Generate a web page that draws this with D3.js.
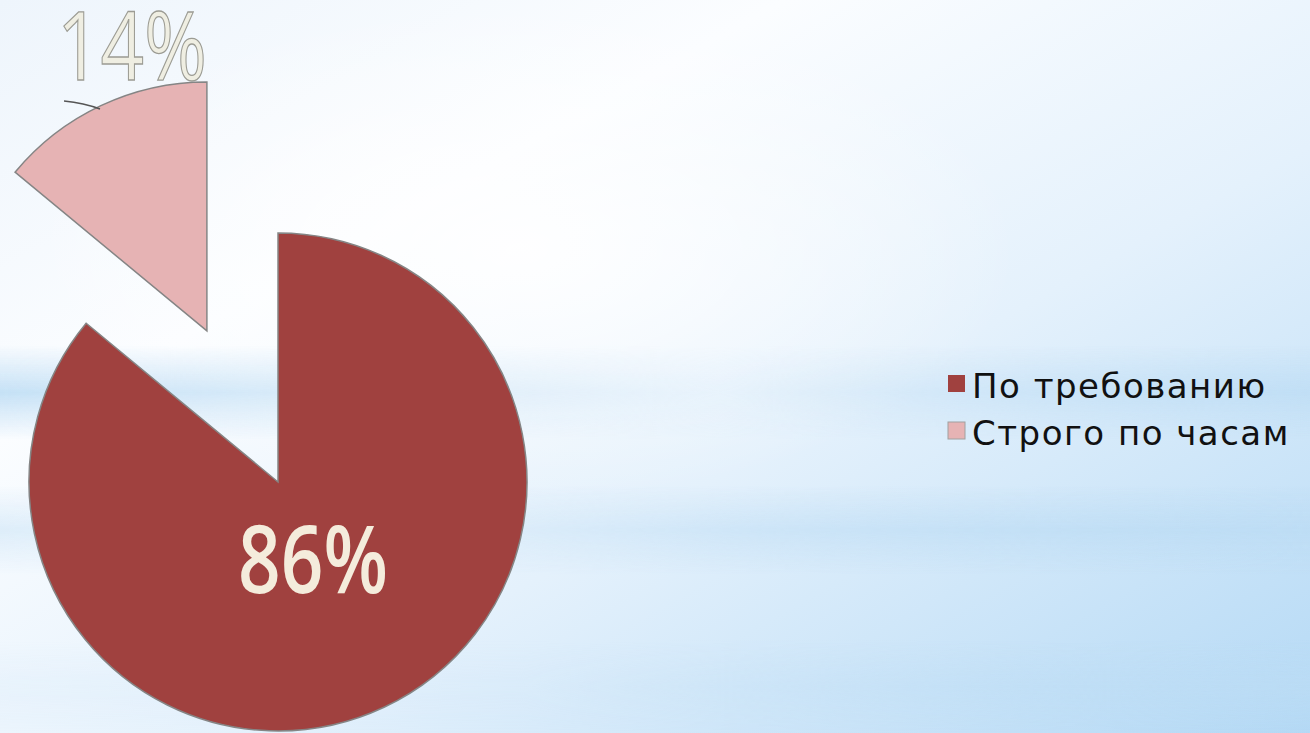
<!DOCTYPE html>
<html><head><meta charset="utf-8">
<script src="https://cdn.jsdelivr.net/npm/d3@7"></script>
<style>html,body{margin:0;padding:0;overflow:hidden;background:#fff}</style>
</head><body>
<svg id="c" width="1310" height="733"></svg>
<script>
const categories = ["По требованию", "Строго по часам"];
const values = [86, 14];
const labels = ["86%", "14%"];
const colors = ["#a0413f", "#e6b3b4"];

const W = 1310, H = 733;
const svg = d3.select("#c");
const defs = svg.append("defs");

// background
const g1 = defs.append("linearGradient").attr("id","bg").attr("x1","0").attr("y1","0").attr("x2","1").attr("y2","1");
g1.append("stop").attr("offset","0").attr("stop-color","#eef5fc");
g1.append("stop").attr("offset","0.3").attr("stop-color","#fbfdff");
g1.append("stop").attr("offset","0.6").attr("stop-color","#e4f1fc");
g1.append("stop").attr("offset","1").attr("stop-color","#b4d9f5");
svg.append("rect").attr("width",W).attr("height",H).attr("fill","url(#bg)");

const rg = defs.append("radialGradient").attr("id","glow").attr("cx","0.5").attr("cy","0.5").attr("r","0.5");
rg.append("stop").attr("offset","0").attr("stop-color","#ffffff").attr("stop-opacity",0.9);
rg.append("stop").attr("offset","1").attr("stop-color","#ffffff").attr("stop-opacity",0);
svg.append("ellipse").attr("cx",520).attr("cy",250).attr("rx",500).attr("ry",250).attr("fill","url(#glow)");

function band(id, y, h, stops, op) {
  const lg = defs.append("linearGradient").attr("id",id).attr("x1","0").attr("y1","0").attr("x2","0").attr("y2","1");
  lg.append("stop").attr("offset","0").attr("stop-color","#bcdcf4").attr("stop-opacity",0);
  lg.append("stop").attr("offset","0.5").attr("stop-color","#bcdcf4").attr("stop-opacity",op);
  lg.append("stop").attr("offset","1").attr("stop-color","#bcdcf4").attr("stop-opacity",0);
  const mk = defs.append("linearGradient").attr("id",id+"m").attr("x1","0").attr("x2","1");
  stops.forEach(s => mk.append("stop").attr("offset",s[0]).attr("stop-color","#fff").attr("stop-opacity",s[1]));
  const m = defs.append("mask").attr("id",id+"mask");
  m.append("rect").attr("x",0).attr("y",y).attr("width",W).attr("height",h).attr("fill",`url(#${id}m)`);
  svg.append("rect").attr("x",0).attr("y",y).attr("width",W).attr("height",h).attr("fill",`url(#${id})`).attr("mask",`url(#${id}mask)`);
}
band("b1", 345, 95, [[0,1],[0.3,0.5],[0.55,0.15],[0.8,0.6],[1,0.9]], 0.85);
band("b2", 485, 90, [[0,0.5],[0.3,0.2],[0.6,0.6],[1,1]], 0.85);
band("b3", 640, 93, [[0,0.2],[0.4,0.1],[0.7,0.5],[1,0.9]], 0.6);

// pie
const cx = 278, cy = 482, r = 249, explode = 167;
const pie = d3.pie().sort(null).value(d => d)(values);
const arc = d3.arc().innerRadius(0).outerRadius(r);
const g = svg.append("g").attr("transform",`translate(${cx},${cy})`);
pie.forEach((p, i) => {
  const mid = (p.startAngle + p.endAngle) / 2;
  const off = i === 1 ? explode : 0;
  const dx = Math.sin(mid) * off, dy = -Math.cos(mid) * off;
  g.append("path").attr("d", arc(p)).attr("transform",`translate(${dx},${dy})`)
    .attr("fill", colors[i]).attr("stroke","#858585").attr("stroke-width",1.5).attr("stroke-linejoin","miter");
});

// labels
const fontLbl = "'Open Sans', Lato, sans-serif";
svg.append("text").attr("x", 313).attr("y", 593).attr("text-anchor","middle")
  .attr("font-family", fontLbl).attr("font-size", 95).attr("font-weight", 600)
  .attr("textLength", 150).attr("lengthAdjust","spacingAndGlyphs")
  .attr("fill","#f4ecdc").text(labels[0]);
svg.append("text").attr("x", 132).attr("y", 80).attr("text-anchor","middle")
  .attr("font-family", fontLbl).attr("font-size", 95).attr("font-weight", 400)
  .attr("textLength", 150).attr("lengthAdjust","spacingAndGlyphs")
  .attr("fill","#efeee2").attr("stroke","#9c9c94").attr("stroke-width",1.3).text(labels[1]);
// leader line
svg.append("path").attr("d","M64,101 Q84,103 100,109").attr("fill","none").attr("stroke","#555").attr("stroke-width",1.5);

// legend
const lg = svg.append("g").attr("transform","translate(948,0)");
categories.forEach((c, i) => {
  const y = 398 + i * 47;
  lg.append("rect").attr("x",0).attr("y", y - 23).attr("width",17).attr("height",17)
    .attr("fill", colors[i]).attr("stroke", i ? "#a0a0a0" : "none").attr("stroke-width",1);
  lg.append("text").attr("x", 24).attr("y", y).attr("font-family","'DejaVu Sans', Verdana, sans-serif")
    .attr("font-size", 34).attr("letter-spacing", 1.5).attr("fill","#111").text(c);
});
</script>
</body></html>
